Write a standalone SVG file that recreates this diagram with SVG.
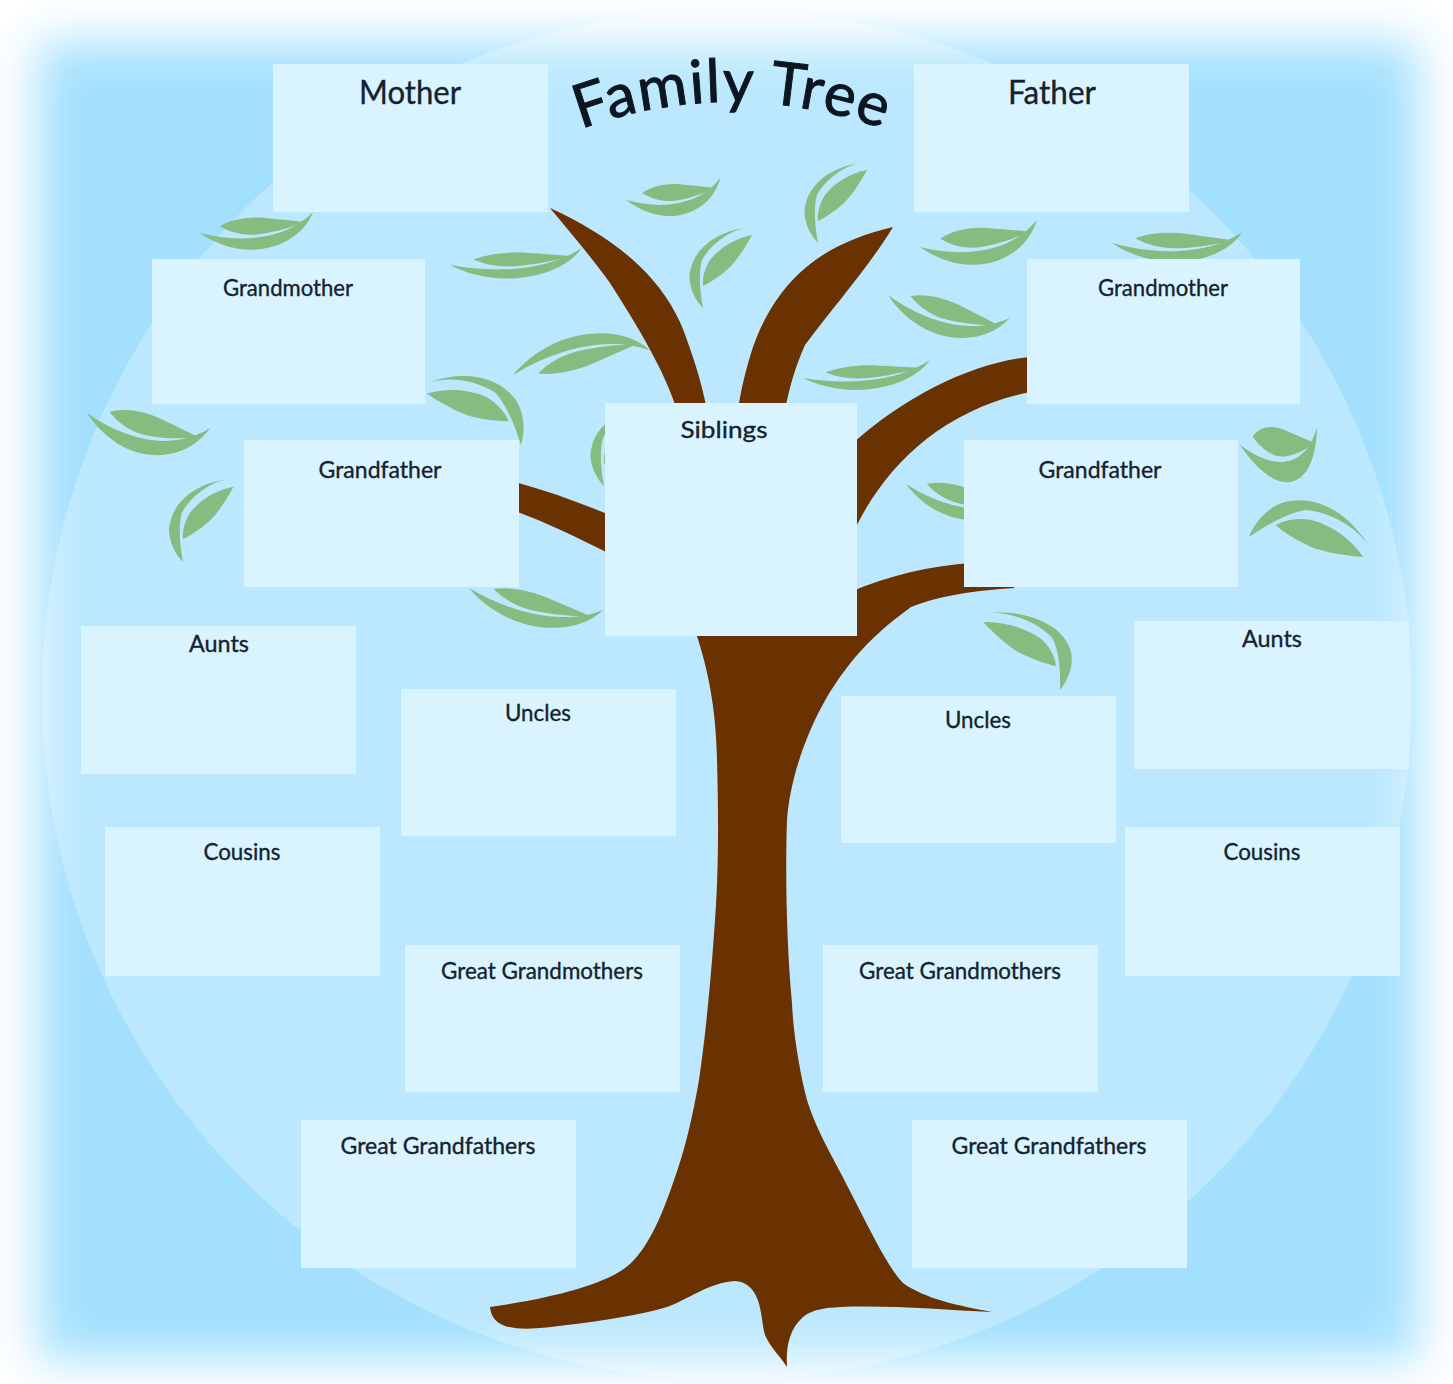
<svg xmlns="http://www.w3.org/2000/svg" width="1453" height="1384" viewBox="0 0 1453 1384">
<style>
.box{fill:#d9f3ff}
.lbl{font-family:"Lato","Open Sans","DejaVu Sans",sans-serif;font-size:24px;fill:#14222e;stroke:#14222e;stroke-width:.35;text-anchor:middle}
.big{font-size:33px}
.title{font-family:"Lato","Open Sans","DejaVu Sans",sans-serif;font-size:60px;fill:#0c1620;stroke:#0c1620;stroke-width:1;letter-spacing:1.5px}
.leaf{fill:#84bd7f}
.wood{fill:#693200}
</style>
<defs>
<filter id="soft" x="-10%" y="-10%" width="120%" height="120%"><feGaussianBlur stdDeviation="24"/></filter>
<filter id="faint" x="-20%" y="-200%" width="140%" height="500%"><feGaussianBlur stdDeviation="2"/></filter>
<mask id="vignette" maskUnits="userSpaceOnUse" x="0" y="0" width="1453" height="1384"><rect x="38" y="42" width="1380" height="1318" fill="#fff" filter="url(#soft)"/></mask>
<g id="leafShape">
<path d="M0,0C12,14 30,26 50,27C72,28 90,18 100,0C85,12 68,16 50,15C32,14 15,8 0,0Z"/>
<path d="M18,-3C30,-8 45,-7 58,-3C70,1 82,5 91,8C82,11 65,13 50,12C38,11 27,6 18,-3Z"/>
</g>
<g id="crescent">
<path d="M0,0C-12,-12 -16,-30 -12,-40C-8,-58 12,-76 42,-80C26,-77 8,-64 -1,-48C-4,-38 -4,-22 0,0Z"/>
<path d="M49,-73C42,-60 34,-48 26,-40C17,-32 8,-26 0,-22C-1,-30 2,-40 7,-48C18,-62 34,-70 49,-73Z"/>
</g>
<path id="arc" d="M565,135Q730,69 900,135"/>
</defs>
<rect width="1453" height="1384" fill="#fff"/>
<g id="background" mask="url(#vignette)">
<rect width="1453" height="1384" fill="#a2e0fe"/>
<circle cx="727" cy="695" r="685" fill="#bbe8fe"/>
</g>
<rect x="1318" y="1354" width="74" height="5" fill="#d6f4ff" opacity=".6" filter="url(#faint)"/>
<g id="leaves" class="leaf">
<use href="#leafShape" transform="translate(626,200) rotate(-13.2) scale(.97,1)"/>
<use href="#crescent" transform="translate(818,243)"/>
<use href="#crescent" transform="translate(703,308)"/>
<use href="#leafShape" transform="translate(513,375) rotate(-10.3) scale(1.39,-1)"/>
<use href="#leafShape" transform="translate(450,265) rotate(-7.3) scale(1.33,.8)"/>
<use href="#leafShape" transform="translate(803,378) rotate(-8) scale(1.28,.75)"/>
<use href="#leafShape" transform="translate(888,295) rotate(10.7) scale(1.24,1.1)"/>
<use href="#leafShape" transform="translate(920,247) rotate(-13) scale(1.2,1.15)"/>
<use href="#leafShape" transform="translate(1112,243) rotate(-4.8) scale(1.31,.9)"/>
<use href="#leafShape" transform="translate(200,233) rotate(-10.5) scale(1.15,1)"/>
<use href="#crescent" transform="translate(521,445) rotate(-27.5) scale(-1.22,1.22)"/>
<use href="#crescent" transform="translate(1060,690) rotate(-10) scale(-1.3,1.1)"/>
<use href="#leafShape" transform="translate(87,413) rotate(7) scale(1.24,1.25)"/>
<use href="#crescent" transform="translate(183,562) scale(1.03)"/>
<use href="#leafShape" transform="translate(469,588) rotate(9.3) scale(1.36,1)"/>
<use href="#crescent" transform="translate(604,486)"/>
<use href="#leafShape" transform="translate(906,484) rotate(8) scale(1.15,1)"/>
<use href="#leafShape" transform="translate(1240,445) rotate(-13) scale(.79,1.75)"/>
<use href="#crescent" transform="translate(1249,537) rotate(66) scale(1.32)"/>
</g>
<g id="tree" class="wood">
<path d="M550,208C620,240 668,282 687,340C696,365 702,385 707,410L677,410C664,370 640,330 610,283C592,258 570,232 550,208Z"/>
<path d="M893,227C830,242 780,272 753,347C745,372 741,390 738,410L785,410C790,385 795,368 805,345C835,305 870,265 893,227Z"/>
<path d="M1030,357C975,362 905,395 850,446L850,540C880,470 940,410 1030,392Z"/>
<path d="M515,482C548,491 578,502 610,515L610,554C578,538 548,523 515,511Z"/>
<path d="M695,630C705,660 716,700 717,760C719,830 718,880 715,920C711,980 705,1040 699,1080C693,1115 685,1150 674,1180C664,1210 650,1245 631,1263C612,1282 560,1297 490,1307C491,1315 494,1322 505,1326C520,1331 545,1328 567,1325C600,1321 640,1315 667,1307C685,1301 710,1282 735,1281C746,1281 754,1290 757,1298C762,1310 762,1325 765,1335C770,1347 780,1356 787,1367C786,1350 788,1330 803,1317C813,1309 825,1308 840,1307C890,1305 945,1310 992,1312C960,1306 925,1299 903,1283C890,1270 875,1240 853,1197C835,1160 818,1135 807,1100C799,1070 793,1030 792,1003C787,950 785,880 787,820C790,780 805,735 827,697C845,668 865,640 911,607C935,597 975,590 1015,588L970,563C930,566 890,575 850,592L700,600Z"/>
</g>
<g id="n-mother"><rect class="box" x="273" y="64" width="275" height="148"/><text class="lbl big" x="410" y="104" textLength="102" lengthAdjust="spacingAndGlyphs">Mother</text></g>
<g id="n-father"><rect class="box" x="914" y="64" width="275" height="148"/><text class="lbl big" x="1052" y="104" textLength="88" lengthAdjust="spacingAndGlyphs">Father</text></g>
<g id="n-grandmother-l"><rect class="box" x="152" y="259" width="273" height="145"/><text class="lbl" x="288" y="296" textLength="130" lengthAdjust="spacingAndGlyphs">Grandmother</text></g>
<g id="n-grandmother-r"><rect class="box" x="1027" y="259" width="273" height="145"/><text class="lbl" x="1163" y="296" textLength="130" lengthAdjust="spacingAndGlyphs">Grandmother</text></g>
<g id="n-grandfather-l"><rect class="box" x="244" y="440" width="275" height="147"/><text class="lbl" x="380" y="478" textLength="123" lengthAdjust="spacingAndGlyphs">Grandfather</text></g>
<g id="n-grandfather-r"><rect class="box" x="964" y="440" width="274" height="147"/><text class="lbl" x="1100" y="478" textLength="123" lengthAdjust="spacingAndGlyphs">Grandfather</text></g>
<g id="n-siblings"><rect class="box" x="605" y="403" width="252" height="233"/><text class="lbl" x="724" y="438" textLength="87" lengthAdjust="spacingAndGlyphs">Siblings</text></g>
<g id="n-aunts-l"><rect class="box" x="81" y="626" width="275" height="148"/><text class="lbl" x="219" y="652" textLength="60" lengthAdjust="spacingAndGlyphs">Aunts</text></g>
<g id="n-aunts-r"><rect class="box" x="1134" y="621" width="275" height="148"/><text class="lbl" x="1272" y="647" textLength="60" lengthAdjust="spacingAndGlyphs">Aunts</text></g>
<g id="n-uncles-l"><rect class="box" x="401" y="689" width="275" height="147"/><text class="lbl" x="538" y="721" textLength="66" lengthAdjust="spacingAndGlyphs">Uncles</text></g>
<g id="n-uncles-r"><rect class="box" x="841" y="696" width="275" height="147"/><text class="lbl" x="978" y="728" textLength="66" lengthAdjust="spacingAndGlyphs">Uncles</text></g>
<g id="n-cousins-l"><rect class="box" x="105" y="827" width="275" height="149"/><text class="lbl" x="242" y="860" textLength="77" lengthAdjust="spacingAndGlyphs">Cousins</text></g>
<g id="n-cousins-r"><rect class="box" x="1125" y="827" width="275" height="149"/><text class="lbl" x="1262" y="860" textLength="77" lengthAdjust="spacingAndGlyphs">Cousins</text></g>
<g id="n-greatgm-l"><rect class="box" x="405" y="945" width="275" height="147"/><text class="lbl" x="542" y="979" textLength="202" lengthAdjust="spacingAndGlyphs">Great Grandmothers</text></g>
<g id="n-greatgm-r"><rect class="box" x="823" y="945" width="275" height="147"/><text class="lbl" x="960" y="979" textLength="202" lengthAdjust="spacingAndGlyphs">Great Grandmothers</text></g>
<g id="n-greatgf-l"><rect class="box" x="301" y="1120" width="275" height="148"/><text class="lbl" x="438" y="1154" textLength="195" lengthAdjust="spacingAndGlyphs">Great Grandfathers</text></g>
<g id="n-greatgf-r"><rect class="box" x="912" y="1120" width="275" height="148"/><text class="lbl" x="1049" y="1154" textLength="195" lengthAdjust="spacingAndGlyphs">Great Grandfathers</text></g>
<g id="n-title"><text class="title" text-anchor="middle"><textPath href="#arc" startOffset="50%">Family Tree</textPath></text></g>
</svg>
